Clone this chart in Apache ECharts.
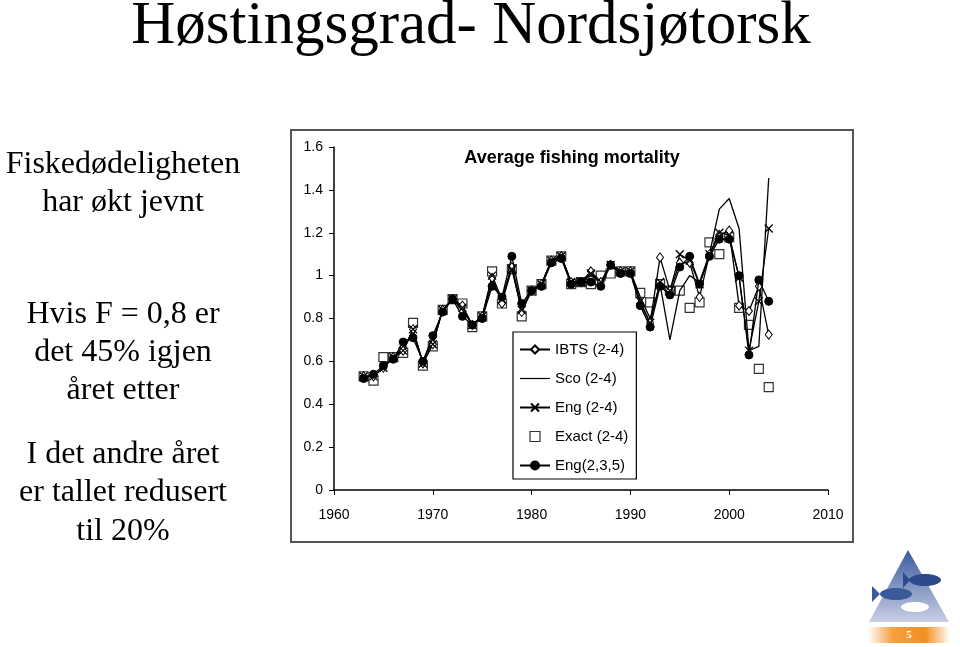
<!DOCTYPE html>
<html><head><meta charset="utf-8">
<script src="https://cdn.jsdelivr.net/npm/echarts@6/dist/echarts.min.js"></script>
<style>html,body{margin:0;padding:0;background:#fff}#c{width:960px;height:647px}</style>
</head><body><div id="c"></div>
<script>
const years = [1963,1964,1965,1966,1967,1968,1969,1970,1971,1972,1973,1974,1975,1976,1977,1978,1979,1980,1981,1982,1983,1984,1985,1986,1987,1988,1989,1990,1991,1992,1993,1994,1995,1996,1997,1998,1999,2000,2001,2002,2003,2004];
const ibts = [0.53,0.53,0.57,0.62,0.65,0.75,0.59,0.68,0.84,0.89,0.86,0.77,0.81,0.99,0.87,1.04,0.83,0.93,0.96,1.07,1.09,0.97,0.97,1.02,0.97,1.05,1.02,1.02,0.87,0.78,1.085,0.93,1.06,1.06,0.90,1.10,1.19,1.21,0.86,0.835,0.95,0.725];
const sco  = [0.53,0.53,0.57,0.62,0.66,0.73,0.60,0.70,0.84,0.89,0.84,0.77,0.81,0.97,0.89,1.05,0.85,0.93,0.96,1.07,1.09,0.97,0.97,1.00,0.97,1.05,1.02,1.02,0.90,0.80,0.96,0.70,0.93,1.00,0.97,1.10,1.31,1.36,1.22,0.65,0.67,1.455];
const eng  = [0.53,0.53,0.57,0.62,0.65,0.75,0.59,0.68,0.84,0.89,0.85,0.77,0.81,1.00,0.89,1.03,0.84,0.93,0.96,1.07,1.09,0.97,0.97,1.01,0.97,1.05,1.02,1.02,0.88,0.78,0.97,0.93,1.10,1.07,0.96,1.10,1.20,1.19,0.99,0.65,0.88,1.22];
const exact= [0.53,0.51,0.62,0.62,0.64,0.78,0.58,0.67,0.84,0.89,0.87,0.76,0.81,1.02,0.87,1.03,0.81,0.93,0.96,1.07,1.09,0.96,0.97,0.96,1.00,1.01,1.02,1.02,0.92,0.875,0.96,0.93,0.93,0.85,0.875,1.155,1.10,1.18,0.85,0.77,0.565,0.48];
const eng235=[0.52,0.54,0.58,0.61,0.69,0.71,0.60,0.72,0.83,0.89,0.81,0.77,0.80,0.95,0.90,1.09,0.87,0.93,0.95,1.06,1.08,0.96,0.97,0.97,0.95,1.05,1.01,1.01,0.86,0.76,0.95,0.91,1.04,1.09,0.96,1.09,1.17,1.17,1.00,0.63,0.98,0.88];
const seriesNames = ['IBTS (2-4)','Sco (2-4)','Eng (2-4)','Exact (2-4)','Eng(2,3,5)'];
const yTicks = [0,0.2,0.4,0.6,0.8,1,1.2,1.4,1.6];
const xTicks = [1960,1970,1980,1990,2000,2010];
const slideTitle = 'Høstingsgrad- Nordsjøtorsk';
const chartTitle = 'Average fishing mortality';
const sideText = ['Fiskedødeligheten','har økt jevnt','Hvis F = 0,8 er','det 45% igjen','året etter','I det andre året','er tallet redusert','til 20%'];

const pair = arr => years.map((y,i)=>[y,arr[i]]);
const NF = "'Liberation Sans Narrow','Liberation Sans',Arial,sans-serif";
const AF = "'Liberation Sans',Arial,sans-serif";
const SF = "'Liberation Serif','Times New Roman',serif";
const xMark = 'path://M0,0L10,10M10,0L0,10';

const chart = echarts.init(document.getElementById('c'), null, {renderer:'canvas'});
const sideY = [165,203,315,353,391,455,493,532];

const graphics = [
  {type:'rect', shape:{x:291,y:130,width:562,height:412}, style:{fill:'#fff',stroke:'#555',lineWidth:2}, z:-10},
  {type:'text', style:{text:slideTitle, x:471, y:27, font:'61px '+SF, fill:'#000', align:'center', verticalAlign:'middle'}},
  {type:'text', style:{text:chartTitle, x:572, y:158, font:'bold 18px '+NF, fill:'#000', align:'center', verticalAlign:'middle'}},
  // logo
  {type:'polygon', shape:{points:[[908,550],[869,622],[949,622]]}, style:{fill:new echarts.graphic.LinearGradient(0,0,0,1,[{offset:0,color:'#3a5a9e'},{offset:1,color:'#c9cfe6'}])}},
  {type:'ellipse', shape:{cx:925,cy:580,rx:16,ry:6}, style:{fill:'#2c4a8c'}},
  {type:'polygon', shape:{points:[[903,572],[910,580],[903,588]]}, style:{fill:'#2c4a8c'}},
  {type:'ellipse', shape:{cx:896,cy:594,rx:16,ry:6}, style:{fill:'#3b5a9a'}},
  {type:'polygon', shape:{points:[[872,586],[880,594],[872,602]]}, style:{fill:'#3b5a9a'}},
  {type:'ellipse', shape:{cx:915,cy:607,rx:14,ry:5}, style:{fill:'#fff'}},
  {type:'rect', shape:{x:868,y:627,width:82,height:16}, style:{fill:new echarts.graphic.LinearGradient(0,0,1,0,[{offset:0,color:'#fff'},{offset:0.3,color:'#f5a040'},{offset:0.7,color:'#f29020'},{offset:1,color:'#fff'}])}},
  {type:'text', style:{text:'5', x:909, y:635, font:'bold 11px '+SF, fill:'#fff', align:'center', verticalAlign:'middle'}}
];
sideText.forEach((t,i)=>graphics.push({type:'text', style:{text:t, x:123, y:sideY[i], font:'32px '+SF, fill:'#000', align:'center', verticalAlign:'middle'}}));

const lineBase = {type:'line', lineStyle:{color:'#000',width:1.3}, itemStyle:{color:'#fff',borderColor:'#000',borderWidth:1}, animation:false, z:3};

chart.setOption({
  animation:false,
  backgroundColor:'#fff',
  graphic: graphics,
  grid:{left:334, top:147, width:494, height:343},
  xAxis:{type:'value', min:xTicks[0], max:xTicks[xTicks.length-1], interval:10,
    axisLine:{lineStyle:{color:'#000',width:1.5}}, axisTick:{show:true,length:5,lineStyle:{color:'#000'}},
    axisLabel:{color:'#000', fontFamily:NF, fontSize:14, margin:18, formatter:v=>String(v)}, splitLine:{show:false}},
  yAxis:{type:'value', min:yTicks[0], max:yTicks[yTicks.length-1], interval:0.2,
    axisLine:{show:true,lineStyle:{color:'#000',width:1.5}}, axisTick:{show:true,length:5,lineStyle:{color:'#000'}},
    axisLabel:{color:'#000', fontFamily:NF, fontSize:14, margin:11, formatter:v=>String(+v.toFixed(1))}, splitLine:{show:false}},
  legend:{orient:'vertical', left:513, top:332, itemWidth:30, itemHeight:10, itemGap:12,
    padding:[9,8,5,6], backgroundColor:'#fff', borderColor:'#000', borderWidth:1.2,
    textStyle:{fontFamily:AF, fontSize:15, lineHeight:17, color:'#000'},
    data:[
      {name:seriesNames[0]},
      {name:seriesNames[1], icon:'path://M0,0L100,0L100,4L0,4Z', itemStyle:{color:'#000',borderWidth:0}},
      {name:seriesNames[2]},
      {name:seriesNames[3], icon:'path://M0,0L10,0L10,10L0,10Z', itemStyle:{color:'#fff',borderColor:'#000',borderWidth:1.2}},
      {name:seriesNames[4]}
    ], z:10},
  series:[
    {...lineBase, name:seriesNames[0], data:pair(ibts), symbol:'diamond', symbolSize:[7,9]},
    {...lineBase, name:seriesNames[1], data:pair(sco), symbol:'none', showSymbol:false},
    {...lineBase, name:seriesNames[2], data:pair(eng), symbol:xMark, symbolSize:8, itemStyle:{color:'none',borderColor:'#000',borderWidth:1.3}},
    {type:'scatter', name:seriesNames[3], data:pair(exact), symbol:'rect', symbolSize:9, itemStyle:{color:'#fff',borderColor:'#000',borderWidth:1.2}, z:2, animation:false},
    {...lineBase, name:seriesNames[4], data:pair(eng235), symbol:'circle', symbolSize:8, itemStyle:{color:'#000',borderColor:'#000',borderWidth:1}, z:4}
  ]
});
</script></body></html>
